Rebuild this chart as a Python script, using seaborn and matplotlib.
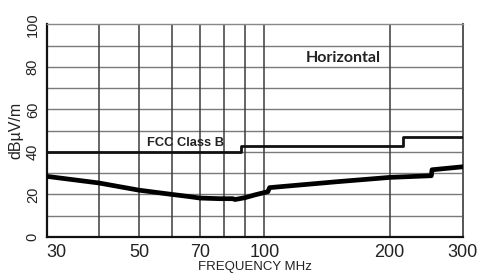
import numpy as np
import pandas as pd
import matplotlib
matplotlib.use("Agg")
import matplotlib.pyplot as plt
import seaborn as sns

# FCC Class B limit (stepped)
fcc_freq = [30, 88, 88, 216, 216, 300]
fcc_db = [40, 40, 43, 43, 47, 47]

# Measured emission curve (horizontal polarisation)
meas_freq = [30, 40, 50, 60, 66, 70, 78, 84, 85, 90, 95, 102, 103, 150, 200, 252, 253, 300]
meas_db = [28.5, 25.4, 22.0, 20.0, 19.0, 18.3, 18.0, 18.0, 17.6, 18.5, 19.8, 21.3, 23.2, 26.0, 28.0, 28.8, 31.6, 33.0]

x_ticks = [30, 50, 70, 100, 200, 300]
x_grid = [40, 50, 60, 70, 80, 90, 100, 200]
y_ticks = [0, 20, 40, 60, 80, 100]

sns.set_theme(style="white")
plt.rcParams['font.family'] = ['Liberation Sans', 'DejaVu Sans']

fig = plt.figure(figsize=(4.89, 2.73), dpi=100)
ax = fig.add_axes([0.0955, 0.132, 0.851, 0.779])
ax.set_xscale("log")

# grid
for v in range(10, 100, 10):
    ax.axhline(v, color="#7a7a7a", lw=1.0, zorder=1)
for f in x_grid:
    ax.axvline(f, color="#3c3c3c", lw=1.1, zorder=1)

fcc_df = pd.DataFrame({"freq": fcc_freq, "db": fcc_db})
meas_df = pd.DataFrame({"freq": meas_freq, "db": meas_db})
sns.lineplot(data=fcc_df, x="freq", y="db", sort=False, estimator=None,
             color="#111111", lw=2.0, ax=ax, zorder=3)
sns.lineplot(data=meas_df, x="freq", y="db", sort=False, estimator=None,
             color="#000000", lw=3.4, ax=ax, zorder=3)

ax.set_xlim(30, 300)
ax.set_ylim(0, 100)
ax.set_xticks(x_ticks)
ax.set_xticklabels([str(t) for t in x_ticks], fontsize=13)
ax.get_xticklabels()[0].set_ha("left")
ax.minorticks_off()
ax.set_yticks(y_ticks)
ax.set_yticklabels([str(t) for t in y_ticks], fontsize=10.5, rotation=90, va="center")
ax.tick_params(axis="both", length=0, pad=5, colors="#222222")
ax.set_xlabel("FREQUENCY MHz", fontsize=9.5, labelpad=0, color="#222222")
ax.set_ylabel("dBµV/m", fontsize=11.5, labelpad=2, color="#222222")

for side in ["left", "bottom"]:
    ax.spines[side].set_color("#111111")
    ax.spines[side].set_linewidth(1.6)
ax.spines["right"].set_color("#555555")
ax.spines["right"].set_linewidth(1.4)
ax.spines["top"].set_color("#888888")
ax.spines["top"].set_linewidth(1.0)

ax.text(80, 41.3, "FCC Class B", fontsize=9.3, fontweight="bold", ha="right",
        va="bottom", color="#222222", zorder=4)
ax.text(155, 84, "Horizontal", fontsize=11.5, fontweight="bold", ha="center",
        va="center", color="#222222", family=["Lato", "DejaVu Sans"], zorder=4)

fig.savefig("out.png", dpi=100)
